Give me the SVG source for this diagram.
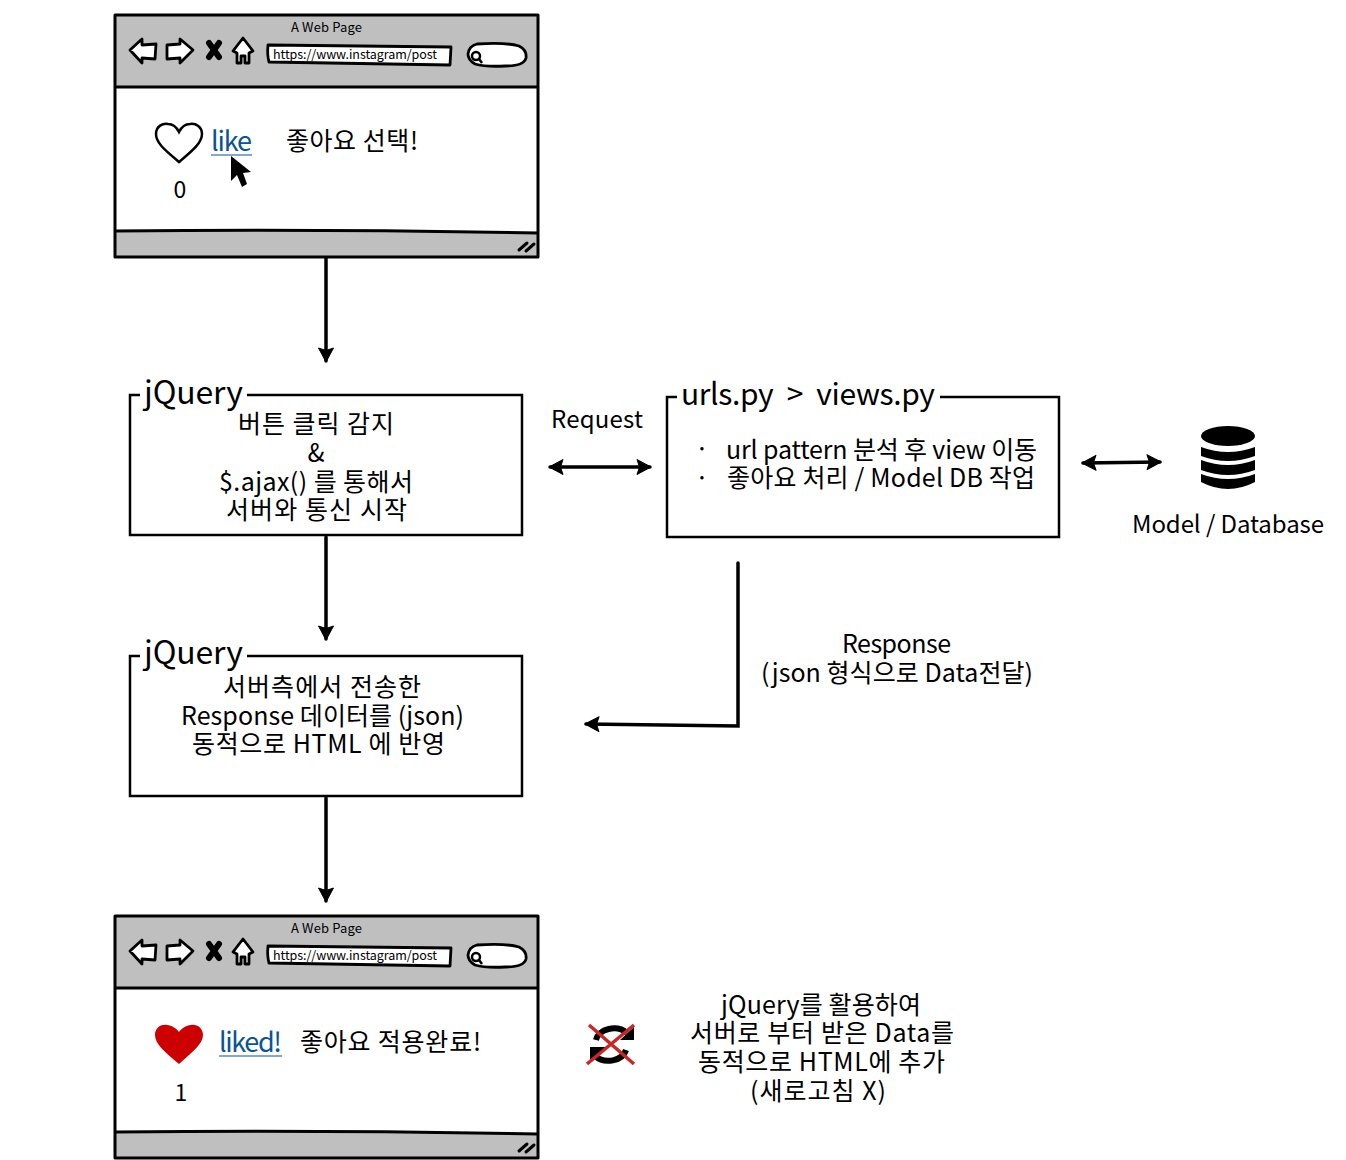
<svg xmlns="http://www.w3.org/2000/svg" width="1346" height="1160" viewBox="0 0 1346 1160">
<style>
text{font-family:"Noto Sans CJK KR","Noto Sans",sans-serif;fill:#000}
.k{font-size:25px}
.t{font-size:32px}
.l{fill:none;stroke:#000;stroke-width:3.500;stroke-linecap:round}
.b{fill:#fff;stroke:#000;stroke-width:2.500}
.ico{fill:#fff;stroke:#000;stroke-width:2.800;stroke-linejoin:round}
.link{font-size:27px;fill:#0b5394}
</style>
<defs>
<marker id="a" viewBox="0 0 16 18" refX="14" refY="9" markerWidth="16" markerHeight="18" markerUnits="userSpaceOnUse" orient="auto-start-reverse"><path d="M1 1.500L15 9L1 16.500L3.500 9Z" fill="#000" stroke="#000" stroke-linejoin="round"/></marker>
<g id="chrome">
<rect x="115" y="15" width="423" height="242" fill="#bfbfbf"/>
<path d="M115 231Q330 229 538 233V87H115Z" fill="#fff"/>
<path d="M115 15H538V257H115Z M115 87H538M115 231Q330 229 538 233" fill="none" stroke="#000" stroke-width="3" stroke-linejoin="round"/>
<text x="291" y="32" font-size="13" textLength="71">A Web Page</text>
<path class="ico" d="M130 50L142 39V45L156 44L155 59L142 58V63Z"/>
<path class="ico" d="M193 50L180 39V44L167 45V59L180 58V63Z"/>
<path d="M209 43L219 57M219 43L209 57" stroke="#000" stroke-width="6" stroke-linecap="round" fill="none"/>
<path class="ico" d="M243 38L253 51L249 53V63H245V56H241V63H237V53L233 51Z"/>
<path class="ico" d="M268 45L451 47L450 65L269 62Q267 55 268 45Z"/>
<text x="273" y="59" font-size="12.500" textLength="164">https://www.instagram/post</text>
<path class="ico" d="M477 44Q505 42 519 46Q527 50 526 58Q524 66 505 66Q485 67 475 64Q468 60 468 54Q469 46 477 44Z"/>
<circle cx="476" cy="56" r="4" fill="none" stroke="#000" stroke-width="2.500"/>
<path d="M479 59L482 63" stroke="#000" stroke-width="2.500"/>
<path d="M519 250L527 243M526 251L534 244" stroke="#000" stroke-width="3" stroke-linecap="round"/>
</g>
</defs>

<g id="connectors">
<path class="l" marker-end="url(#a)" d="M326 258V361"/>
<path class="l" marker-end="url(#a)" d="M326 537V639"/>
<path class="l" marker-end="url(#a)" d="M326 798V901"/>
<path class="l" marker-start="url(#a)" marker-end="url(#a)" d="M550 467H650"/>
<path class="l" marker-start="url(#a)" marker-end="url(#a)" d="M1083 463L1160 462"/>
<path class="l" marker-end="url(#a)" d="M738 563V726L586 724"/>
</g>

<g id="browser-top">
<use href="#chrome"/>
<path d="M179 162C165 150 156 143 156 134C156 126 163 123 168 124C173 124 177 128 179 132C181 128 185 124 190 124C196 123 202 127 202 134C202 143 192 151 179 162Z" fill="#fff" stroke="#000" stroke-width="2.500"/>
<text class="link" x="211" y="151" textLength="41">like</text>
<path d="M211 155H252" stroke="#0b5394" stroke-width="1"/>
<path d="M231 156V181L237 175L242 187L247 184L243 173L251 172Z" fill="#000"/>
<text class="k" x="286" y="150" textLength="132">좋아요 선택!</text>
<text x="180" y="198" font-size="23" text-anchor="middle">0</text>
</g>

<g id="jquery-1">
<rect class="b" x="130" y="395" width="392" height="140"/>
<rect x="140" y="385" width="107" height="20" fill="#fff"/>
<text class="t" x="144" y="404" textLength="99">jQuery</text>
<text class="k" x="238" y="433" textLength="156">버튼 클릭 감지</text>
<text class="k" x="316" y="462" text-anchor="middle">&amp;</text>
<text class="k" x="219" y="491" textLength="194">$.ajax() 를 통해서</text>
<text class="k" x="226" y="519" textLength="181">서버와 통신 시작</text>
</g>

<g id="request-label"><text x="551" y="428" font-size="24" textLength="92">Request</text></g>

<g id="urls-views">
<rect class="b" x="667" y="397" width="392" height="140"/>
<rect x="677" y="387" width="263" height="20" fill="#fff"/>
<text class="t" x="681" y="405" font-size="30" style="font-size:30px" word-spacing="7" textLength="254">urls.py &gt; views.py</text>
<text class="k" x="702" y="458" text-anchor="middle">·</text>
<text class="k" x="702" y="487" text-anchor="middle">·</text>
<text class="k" x="726" y="459" textLength="311">url pattern 분석 후 view 이동</text>
<text class="k" x="727" y="487" textLength="308">좋아요 처리 / Model DB 작업</text>
</g>

<g id="database">
<ellipse cx="1228" cy="436" rx="27" ry="10" fill="#000"/>
<path d="M1201 447Q1228 457 1255 447V456Q1228 466 1201 456Z" fill="#000"/>
<path d="M1201 460Q1228 470 1255 460V470Q1228 480 1201 470Z" fill="#000"/>
<path d="M1201 474Q1228 484 1255 474V482Q1228 496 1201 482Z" fill="#000"/>
<text x="1132" y="533" font-size="24" textLength="192">Model / Database</text>
</g>

<g id="jquery-2">
<rect class="b" x="130" y="656" width="392" height="140"/>
<rect x="140" y="646" width="107" height="20" fill="#fff"/>
<text class="t" x="144" y="664" textLength="99">jQuery</text>
<text class="k" x="223" y="696" textLength="198">서버측에서 전송한</text>
<text class="k" x="181" y="725" textLength="283">Response 데이터를 (json)</text>
<text class="k" x="192" y="753" textLength="253">동적으로 HTML 에 반영</text>
</g>

<g id="response-label">
<text class="k" x="842" y="653" textLength="109">Response</text>
<text class="k" x="761" y="682" textLength="272">(json 형식으로 Data전달)</text>
</g>

<g id="browser-bottom">
<use href="#chrome" y="901"/>
<path d="M179 1064C165 1052 155 1044 155 1035C155 1027 162 1024 167 1025C172 1025 177 1029 179 1032C181 1029 186 1025 191 1025C197 1024 203 1028 203 1035C203 1044 192 1052 179 1064Z" fill="#c00"/>
<text class="link" x="219" y="1052" textLength="63">liked!</text>
<path d="M219 1056H282" stroke="#0b5394" stroke-width="1"/>
<text class="k" x="300" y="1051" textLength="181">좋아요 적용완료!</text>
<text x="181" y="1101" font-size="23" text-anchor="middle">1</text>
</g>

<g id="no-refresh">
<path d="M596 1040A18 14 0 0 1 627 1033M626 1050A18 14 0 0 1 595 1056" fill="none" stroke="#000" stroke-width="6"/>
<path d="M620 1040H634V1027ZM590 1047H606L590 1061Z" fill="#000"/>
<path d="M589 1025L634 1064M634 1025L587 1064" stroke="#c62828" stroke-width="3.500"/>
</g>

<g id="note">
<text class="k" x="721" y="1014" textLength="200">jQuery를 활용하여</text>
<text class="k" x="690" y="1042" textLength="264">서버로 부터 받은 Data를</text>
<text class="k" x="698" y="1071" textLength="247">동적으로 HTML에 추가</text>
<text class="k" x="750" y="1100" textLength="136">(새로고침 X)</text>
</g>
</svg>
